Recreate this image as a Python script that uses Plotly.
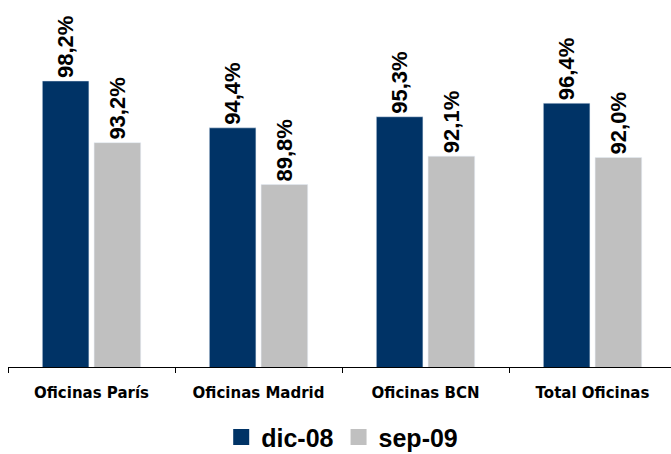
import plotly.graph_objects as go

categories = ["Oficinas París", "Oficinas Madrid", "Oficinas BCN", "Total Oficinas"]
dic08 = [98.2, 94.4, 95.3, 96.4]
sep09 = [93.2, 89.8, 92.1, 92.0]
series_names = ["dic-08", "sep-09"]
colors = ["#003366", "#C0C0C0"]


def fmt(v):
    return f"{v:.1f}".replace(".", ",") + "%"


fig = go.Figure()
for name, vals, col in zip(series_names, [dic08, sep09], colors):
    fig.add_trace(go.Bar(
        x=categories, y=vals, name=name, marker_color=col,
        text=[fmt(v) for v in vals], textposition="outside", textangle=-90,
        constraintext="none",
        outsidetextfont=dict(family="Liberation Sans", size=22, color="black", weight="bold"),
        cliponaxis=False, showlegend=False,
    ))
    # legend swatch
    fig.add_trace(go.Scatter(
        x=[None], y=[None], mode="markers", name=name,
        marker=dict(symbol="square", size=17, color=col),
        showlegend=True,
    ))

fig.update_layout(
    width=671, height=454,
    margin=dict(l=8, r=0, t=0, b=87, autoexpand=False),
    paper_bgcolor="white", plot_bgcolor="white",
    barmode="group", bargap=0.38, bargroupgap=0.10,
    showlegend=True,
    legend=dict(orientation="h", x=0.51, xanchor="center", xref="container",
                y=0.037, yanchor="middle", yref="container",
                font=dict(family="Liberation Sans", size=25, color="black", weight="bold"),
                itemsizing="trace", traceorder="normal"),
    xaxis=dict(type="category", range=[-0.5, 3.47], showline=True, linecolor="black", linewidth=1,
               ticks="outside", tickson="boundaries", ticklen=5, tickcolor="black",
               ticklabelstandoff=12,
               tickfont=dict(family="DejaVu Sans", size=15, color="black", weight="bold"),
               showgrid=False, zeroline=False),
    yaxis=dict(range=[75, 104.77], visible=False, showgrid=False),
)

fig.write_html("out.html")
